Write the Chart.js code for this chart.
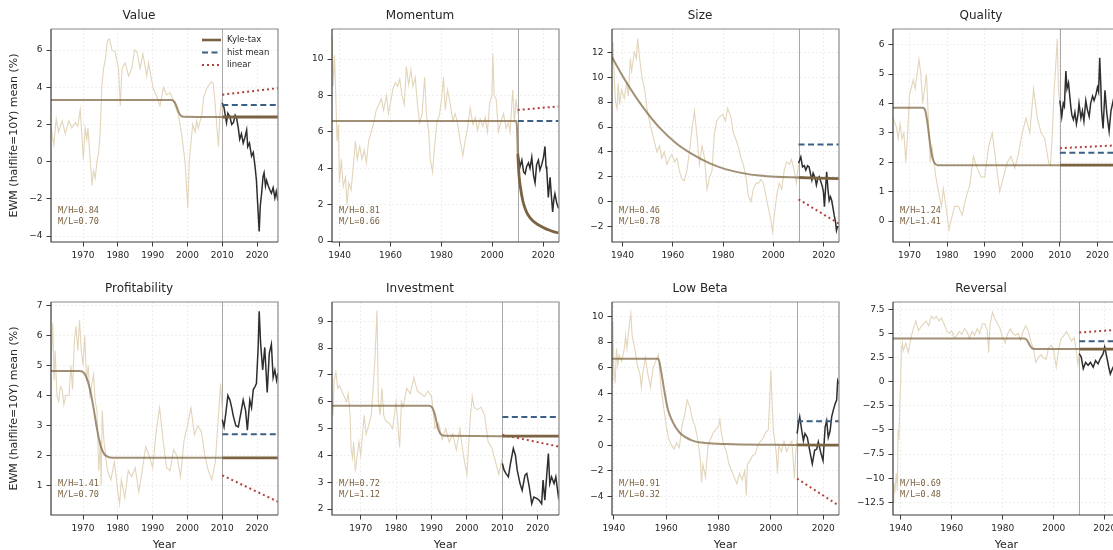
<!DOCTYPE html>
<html>
<head>
<meta charset="utf-8">
<script src="https://cdn.jsdelivr.net/npm/chart.js@4.4.1/dist/chart.umd.min.js"></script>
<style>
html, body { margin:0; padding:0; background:#fff; overflow:hidden; }
#fig { position:relative; width:1113px; height:550px; overflow:hidden; background:#fff; }
#fig canvas { position:absolute; }
</style>
</head>
<body>
<div id="fig"></div>
<script>
// tick labels
const decades = [1970, 1980, 1990, 2000, 2010, 2020];
const vicennia = [1940, 1960, 1980, 2000, 2020];
const valueYTicks = [-4, -2, 0, 2, 4, 6];
const momentumYTicks = [0, 2, 4, 6, 8, 10];
const sizeYTicks = [-2, 0, 2, 4, 6, 8, 10, 12];
const qualityYTicks = [0, 1, 2, 3, 4, 5, 6];
const profitYTicks = [1, 2, 3, 4, 5, 6, 7];
const investYTicks = [2, 3, 4, 5, 6, 7, 8, 9];
const lowBetaYTicks = [-4, -2, 0, 2, 4, 6, 8, 10];
const reversalYTicks = [-12.5, -10, -7.5, -5, -2.5, 0, 2.5, 5, 7.5];

// Value
const valueHist = [[1960.8,1.8],[1961.6,0.9],[1962.3,2.3],[1963,1.6],[1964,2.2],[1964.9,1.5],[1965.9,2.2],[1966.8,1.8],[1967.8,2.1],[1968.5,1.9],[1969.2,2.8],[1969.7,1.3],[1970.1,0.1],[1970.6,1.8],[1971.1,1.2],[1971.4,1.8],[1971.9,0.5],[1972.6,-1.3],[1973,-0.5],[1973.5,-0.9],[1974,0.0],[1974.5,0.5],[1974.9,1.5],[1975.4,4.0],[1975.9,5.0],[1976.4,5.5],[1977,6.5],[1977.6,6.6],[1978.3,6.0],[1979.2,5.9],[1980.2,5.0],[1980.7,3.0],[1981.2,5.0],[1982.1,5.3],[1983.1,4.6],[1984,5.0],[1984.8,6.0],[1985.5,5.9],[1986.4,5.0],[1987.2,5.8],[1988.3,4.6],[1988.8,5.3],[1990.2,3.9],[1991.2,3.5],[1992.1,3.0],[1993.1,4.0],[1994,3.6],[1995,3.7],[1995.9,3.3],[1997.4,2.5],[1998.3,1.5],[1999.3,0.0],[2000.1,-2.5],[2000.5,0.0],[2001.5,2.0],[2002.2,1.6],[2002.6,2.2],[2003.1,1.8],[2004.1,2.5],[2004.7,3.5],[2005.7,4.0],[2006.9,4.3],[2007.4,4.2],[2007.9,3.2],[2008.4,2.0],[2008.9,0.8],[2009.3,2.5],[2009.7,3.2],[2010,2.8]];
const valueOos = [[2010,3.15],[2010.5,2.9],[2011.2,2.1],[2011.6,2.6],[2012.2,2.4],[2012.7,2.0],[2013.2,2.1],[2013.7,2.5],[2014.1,2.35],[2014.6,1.8],[2015,1.2],[2015.5,1.5],[2016,1.0],[2016.5,1.3],[2017,1.7],[2017.3,0.8],[2017.8,1.0],[2018.4,0.3],[2018.9,0.5],[2019.4,-0.25],[2019.8,-1.0],[2020.3,-2.75],[2020.6,-3.75],[2020.9,-2.4],[2021.3,-1.7],[2021.7,-0.8],[2022,-0.6],[2022.4,-1.3],[2022.7,-1.0],[2023.2,-1.3],[2023.6,-1.5],[2024.1,-1.7],[2024.6,-1.4],[2025.1,-1.95],[2025.5,-1.6],[2026,-2.1]];
const valueKyleIn = [[1960.8,3.32],[1995.5,3.32],[1996.3,3.2],[1996.9,2.95],[1997.5,2.65],[1998.1,2.47],[1999,2.41],[2010,2.4]];
const valueKyleOut = [[2010,2.4],[2026,2.4]];
const valueMean = [[2010,3.05],[2026,3.05]];
const valueLinear = [[2010,3.6],[2026,3.95]];

// Momentum
const momentumHist = [[1937.1,11.2],[1937.5,8.5],[1938,10.2],[1938.4,8.4],[1939,5.5],[1939.5,6.4],[1939.9,3.2],[1940.7,4.5],[1941.4,3.0],[1942.3,3.5],[1942.9,2.0],[1943.6,3.2],[1944.5,2.8],[1945.3,4.0],[1946.2,5.5],[1946.9,4.5],[1947.9,5.2],[1948.8,4.5],[1949.7,5.0],[1950.5,4.3],[1951.4,5.5],[1952.4,6.0],[1953.4,6.5],[1954.4,7.2],[1955.4,7.5],[1956.4,7.8],[1957.3,7.2],[1958.4,8.0],[1959.2,7.0],[1960,7.6],[1961,8.4],[1961.9,8.7],[1962.8,8.5],[1963.6,8.9],[1964.5,8.0],[1965.4,7.5],[1966.2,9.6],[1967.1,8.6],[1968,9.4],[1968.8,8.5],[1969.7,9.0],[1970.6,7.5],[1971.4,6.5],[1972.4,7.0],[1973.4,9.0],[1974.1,7.0],[1975,6.0],[1975.6,4.5],[1976.5,3.8],[1977.2,5.0],[1978.2,6.5],[1979.3,7.0],[1980.2,8.0],[1980.8,9.0],[1981.5,7.2],[1982.4,8.3],[1983.5,7.5],[1984.5,6.6],[1985.4,7.0],[1986.3,6.5],[1987.4,5.5],[1988.4,4.7],[1989.3,5.5],[1990.3,6.2],[1991.3,7.3],[1992.4,6.4],[1993.3,6.8],[1994.2,6.1],[1995.2,6.7],[1996.3,6.3],[1997.2,6.8],[1998.1,6.0],[1998.9,7.5],[1999.8,8.0],[2000.2,10.3],[2000.7,8.0],[2001.5,7.8],[2002.4,6.0],[2003.3,6.5],[2004.4,7.0],[2005.4,6.2],[2006.3,6.5],[2007,6.0],[2008,8.3],[2008.7,6.5],[2009.3,7.8],[2010,7.0]];
const momentumOos = [[2010,4.6],[2010.3,4.6],[2010.9,4.1],[2011.6,4.45],[2012.3,3.8],[2012.9,3.7],[2013.5,4.1],[2014.2,4.3],[2014.8,4.0],[2015.5,4.6],[2016.2,3.6],[2016.8,3.2],[2017.4,4.2],[2018.1,4.45],[2018.7,3.9],[2019.4,4.2],[2020.1,4.6],[2020.7,5.2],[2021.1,4.1],[2021.4,3.9],[2022,2.4],[2022.7,3.5],[2023.2,2.5],[2023.7,1.6],[2024.2,2.3],[2024.6,2.6],[2025.3,2.1],[2026,1.8]];
const momentumKyleIn = [[1937,6.6],[2009.4,6.6],[2009.7,6.2],[2010,4.8]];
const momentumKyleOut = [[2010,4.8],[2010.5,3.6],[2011,3.0],[2012,2.2],[2013,1.75],[2014,1.45],[2016,1.1],[2018,0.9],[2020,0.75],[2022,0.62],[2024,0.52],[2026,0.45]];
const momentumMean = [[2010,6.6],[2026,6.6]];
const momentumLinear = [[2010,7.2],[2026,7.4]];

// Size
const sizeHist = [[1935.8,11.0],[1936.2,12.8],[1936.7,10.0],[1937.2,8.0],[1937.8,7.5],[1938.3,9.5],[1938.8,7.8],[1939.6,9.0],[1940.7,8.3],[1941.6,9.5],[1942.3,8.5],[1943.1,11.5],[1943.6,10.5],[1944.7,12.0],[1945.5,11.5],[1946,13.1],[1946.8,11.5],[1947.7,10.0],[1948.8,9.0],[1949.7,7.5],[1950.7,6.5],[1951.8,5.5],[1952.7,4.8],[1953.7,4.0],[1954.7,4.5],[1955.6,3.5],[1956.6,4.0],[1957.6,3.0],[1958.7,3.5],[1959.6,3.8],[1960.7,3.2],[1961.6,3.5],[1962.6,2.5],[1963.6,1.8],[1964.6,1.7],[1965.6,2.5],[1966.6,4.0],[1967.7,6.0],[1968.6,7.3],[1969.5,5.5],[1970.6,3.0],[1971.6,4.5],[1972.6,3.5],[1973.6,1.0],[1974.6,2.0],[1975.6,2.5],[1976.5,5.5],[1977.5,6.5],[1978.5,6.8],[1979.8,7.0],[1980.9,6.5],[1981.8,7.5],[1983.1,6.8],[1984.1,5.5],[1985.1,5.0],[1986.2,4.3],[1987.1,3.5],[1988,3.0],[1989.1,2.0],[1990,0.5],[1991.1,0.0],[1992,1.0],[1993.1,1.5],[1994.1,1.5],[1995.1,1.8],[1996,1.5],[1997,0.5],[1998,-0.5],[1999,-1.5],[1999.7,-2.4],[2000.3,-1.2],[2001.3,0.5],[2002.3,1.5],[2003.3,1.0],[2004.3,2.5],[2005.2,3.2],[2006.3,3.0],[2007.2,3.4],[2008.3,2.5],[2009.2,1.5],[2010,3.0]];
const sizeOos = [[2010,3.1],[2010.9,3.6],[2011.6,2.8],[2012.3,2.9],[2012.9,2.55],[2013.6,2.9],[2014.2,2.8],[2014.8,2.2],[2015.3,1.75],[2015.8,2.3],[2016.2,2.1],[2016.7,1.8],[2017.1,1.35],[2017.6,1.8],[2018.2,2.0],[2018.9,1.6],[2019.5,1.2],[2019.9,0.8],[2020.3,-0.4],[2020.7,0.9],[2021.2,2.4],[2021.7,1.0],[2022.2,0.1],[2022.7,0.4],[2023.2,0.1],[2023.7,-0.5],[2024.2,-1.1],[2024.7,-1.6],[2025.1,-2.3],[2025.5,-2.0],[2026,-2.0]];
const sizeKyleIn = [[1935.8,11.6],[1941.5,9.6],[1948.1,7.6],[1954.7,5.95],[1961.3,4.7],[1967.9,3.8],[1974.5,3.1],[1981.2,2.6],[1987.8,2.3],[1994.4,2.1],[2001,2.0],[2010,1.95]];
const sizeKyleOut = [[2010,1.95],[2018,1.9],[2026,1.85]];
const sizeMean = [[2010,4.6],[2026,4.6]];
const sizeLinear = [[2010,0.2],[2026,-1.75]];

// Quality
const qualityHist = [[1965.6,3.5],[1966.5,3.2],[1967,2.8],[1967.5,3.3],[1968,2.8],[1968.5,3.0],[1969,2.0],[1969.5,3.0],[1970,4.3],[1971,4.8],[1971.5,4.5],[1972,5.0],[1972.5,5.5],[1973,5.0],[1973.5,4.0],[1974,4.5],[1974.5,5.0],[1975,3.5],[1975.5,2.0],[1976,2.5],[1977,1.5],[1978,0.8],[1978.5,0.5],[1979,1.1],[1980,0.2],[1980.5,-0.3],[1981,0.0],[1982,0.5],[1983,0.5],[1984,0.2],[1985,0.8],[1986,1.2],[1987,2.2],[1988,1.8],[1989,1.5],[1990,1.5],[1991,2.5],[1992,3.0],[1993,2.0],[1994,1.0],[1995,1.5],[1996,2.0],[1997,2.2],[1998,1.8],[1999,2.3],[2000,3.0],[2001,3.5],[2002,3.0],[2003,4.5],[2004,3.5],[2005,3.0],[2006,2.8],[2007,2.0],[2007.5,1.9],[2008,3.0],[2008.5,4.5],[2009,5.5],[2009.3,6.2],[2009.6,4.5],[2010,4.0]];
const qualityOos = [[2010,4.1],[2010.5,3.55],[2010.9,4.0],[2011.2,3.9],[2011.6,5.1],[2011.9,4.5],[2012.3,4.7],[2012.9,3.9],[2013.2,3.6],[2013.6,3.45],[2014,3.7],[2014.4,3.3],[2014.8,3.6],[2015.1,4.0],[2015.6,3.5],[2016,3.75],[2016.4,3.4],[2016.9,4.1],[2017.3,3.8],[2017.8,3.55],[2018.2,4.0],[2018.7,4.25],[2019.1,4.1],[2019.6,4.3],[2020,4.55],[2020.3,4.4],[2020.6,5.55],[2020.9,4.6],[2021.1,3.75],[2021.5,3.15],[2022,4.45],[2022.5,3.65],[2023.1,3.05],[2023.6,3.75],[2024.2,4.1],[2024.7,3.6],[2025.3,3.9],[2026,4.2]];
const qualityKyleIn = [[1965.6,3.85],[1973.5,3.85],[1974.2,3.75],[1974.8,3.3],[1975.4,2.7],[1976,2.2],[1976.6,1.98],[1977.5,1.9],[2010,1.9]];
const qualityKyleOut = [[2010,1.9],[2026,1.9]];
const qualityMean = [[2010,2.32],[2026,2.32]];
const qualityLinear = [[2010,2.48],[2026,2.58]];

// Profitability
const profitHist = [[1960.8,5.0],[1961.3,6.4],[1961.7,4.5],[1962,5.5],[1962.5,4.0],[1963,3.8],[1963.5,4.3],[1964,4.2],[1964.5,3.7],[1965,4.0],[1966,4.0],[1966.5,5.0],[1967,4.2],[1967.5,5.8],[1968,6.3],[1968.5,5.5],[1969,6.5],[1969.5,5.5],[1970,5.0],[1970.5,6.0],[1971,4.5],[1971.5,5.0],[1972,4.0],[1973,4.7],[1973.5,3.8],[1974,3.5],[1974.5,1.5],[1975,2.5],[1975.2,1.0],[1975.5,3.5],[1976,2.5],[1977,1.5],[1978,1.2],[1979,1.8],[1980,0.8],[1980.5,0.4],[1981,1.2],[1982,0.6],[1983,1.5],[1984,1.3],[1985,1.6],[1986,0.8],[1987,1.5],[1988,2.3],[1989,2.0],[1990,1.6],[1991,2.8],[1992,3.6],[1993,2.5],[1994,1.6],[1995,1.5],[1996,2.2],[1997,2.0],[1998,1.3],[1999,2.5],[2000,3.0],[2001,3.6],[2002,2.7],[2003,3.0],[2004,2.8],[2005,2.0],[2006,1.5],[2007,1.2],[2008,1.8],[2009,3.5],[2009.5,4.4],[2010,3.5]];
const profitOos = [[2010,3.2],[2010.5,2.96],[2011,3.4],[2011.6,4.0],[2012.2,3.85],[2012.7,3.6],[2013.2,3.3],[2013.9,3.0],[2014.6,2.96],[2015.3,3.4],[2016,3.85],[2016.7,3.5],[2017.2,2.85],[2017.9,3.85],[2018.4,3.6],[2018.9,4.2],[2019.4,4.3],[2019.8,4.4],[2020.3,5.6],[2020.6,6.8],[2021,5.75],[2021.6,4.85],[2022.2,5.6],[2022.9,4.1],[2023.5,5.4],[2024.1,5.7],[2024.6,4.6],[2025.1,4.85],[2025.6,4.5],[2026,4.75]];
const profitKyleIn = [[1960.8,4.82],[1969,4.82],[1970,4.78],[1971,4.6],[1972,4.2],[1973,3.6],[1974,2.9],[1975,2.35],[1976,2.07],[1977,1.97],[1978.5,1.93],[2010,1.93]];
const profitKyleOut = [[2010,1.93],[2026,1.93]];
const profitMean = [[2010,2.71],[2026,2.71]];
const profitLinear = [[2010,1.35],[2026,0.47]];

// Investment
const investHist = [[1961.9,6.0],[1962.2,5.5],[1962.5,6.8],[1963,7.1],[1963.5,6.5],[1964,6.6],[1965,6.3],[1966,6.0],[1966.5,6.3],[1967,5.5],[1967.3,4.2],[1967.7,3.9],[1968,4.5],[1968.5,3.4],[1969,4.0],[1969.5,4.5],[1970,4.0],[1971,5.5],[1971.5,4.8],[1972,5.0],[1973,5.5],[1973.5,6.5],[1974,7.5],[1974.6,9.4],[1975,6.0],[1975.5,5.5],[1976,6.5],[1976.5,5.5],[1977,5.3],[1978,5.2],[1979,5.0],[1980,6.0],[1981,4.3],[1981.5,6.0],[1982,5.8],[1983,6.5],[1984,6.3],[1985,6.9],[1986,6.4],[1987,6.3],[1988,6.2],[1989,6.4],[1990,6.2],[1991,5.0],[1992,5.2],[1993,4.6],[1994,5.0],[1995,4.5],[1996,4.8],[1997,4.2],[1998,5.0],[1999,4.0],[2000,3.3],[2001,5.5],[2001.5,6.2],[2002,5.8],[2003,5.7],[2004,5.8],[2005,5.5],[2006,4.5],[2007,4.3],[2008,3.8],[2009,3.3],[2010,3.9]];
const investOos = [[2010,3.7],[2010.5,3.45],[2011,3.33],[2011.7,3.2],[2012.3,3.7],[2013.1,4.26],[2013.7,4.0],[2014.2,3.45],[2015,2.95],[2015.6,2.7],[2016.4,3.27],[2016.9,3.33],[2017.6,2.83],[2018.3,2.2],[2018.9,2.45],[2019.7,2.4],[2020.4,2.33],[2021.1,2.2],[2021.5,3.08],[2022,2.33],[2022.5,3.2],[2023,4.07],[2023.4,2.95],[2023.9,3.2],[2024.6,2.95],[2025.1,3.2],[2025.8,2.5],[2026,2.7]];
const investKyleIn = [[1961.9,5.85],[1989.3,5.85],[1990.2,5.78],[1990.9,5.55],[1991.5,5.2],[1992.1,4.92],[1992.8,4.77],[1994,4.73],[2010,4.72]];
const investKyleOut = [[2010,4.72],[2026,4.72]];
const investMean = [[2010,5.43],[2026,5.43]];
const investLinear = [[2010,4.77],[2026,4.33]];

// Low Beta
const lowBetaHist = [[1939.3,5.0],[1939.6,9.6],[1940,6.0],[1940.5,4.8],[1941,7.5],[1941.5,6.2],[1942,7.0],[1943,6.5],[1944,7.5],[1944.5,8.5],[1945,7.5],[1946,9.5],[1946.5,10.2],[1947,8.5],[1948,7.5],[1949,6.2],[1950,5.5],[1950.5,4.5],[1951,5.5],[1952,6.8],[1953,5.5],[1954,4.5],[1955,6.0],[1956,6.5],[1957,7.0],[1958,4.5],[1959,3.0],[1960,1.5],[1961,0.5],[1962,0.0],[1963,-0.3],[1964,0.2],[1965,-0.2],[1966,1.5],[1967,2.3],[1968,3.5],[1969,3.0],[1970,2.0],[1971,1.5],[1972,0.5],[1973,-1.0],[1973.5,-2.9],[1974,-1.5],[1975,-2.5],[1976,0.0],[1977,0.5],[1978,1.0],[1979,1.2],[1980,1.5],[1980.5,2.0],[1981,1.0],[1982,0.0],[1983,-0.5],[1984,-1.5],[1985,-2.0],[1986,-2.5],[1987,-3.0],[1988,-2.2],[1989,-2.7],[1990,-2.0],[1990.6,-3.9],[1991,-1.5],[1992,-1.2],[1993,-0.8],[1994,-0.7],[1995,0.0],[1996,0.3],[1997,0.5],[1998,1.0],[1999,1.2],[2000,5.8],[2000.5,3.0],[2001,1.0],[2002,-0.5],[2002.5,-2.2],[2003,0.0],[2004,-0.5],[2005,0.3],[2006,-0.5],[2007,0.0],[2008,0.3],[2009,-2.6],[2009.5,-0.5],[2010,0.5]];
const lowBetaOos = [[2010,0.9],[2010.5,1.65],[2011,2.2],[2011.8,1.1],[2012.4,0.35],[2013,0.9],[2013.9,0.6],[2014.8,-0.4],[2015.8,-1.45],[2016.7,-0.4],[2017.5,-0.3],[2018.1,0.25],[2019,-0.55],[2019.9,-1.2],[2020.7,1.4],[2021.3,1.9],[2021.9,0.6],[2022.6,1.1],[2023.2,2.2],[2023.8,2.7],[2024.5,3.2],[2025.1,3.5],[2025.5,5.0],[2026,4.75]];
const lowBetaKyleIn = [[1939.3,6.7],[1957,6.7],[1958,5.8],[1959.3,4.2],[1960.6,2.8],[1962.5,1.8],[1965,1.0],[1970,0.35],[1976.5,0.15],[1985.4,0.08],[2010,0.02]];
const lowBetaKyleOut = [[2010,0.02],[2026,0.0]];
const lowBetaMean = [[2010,1.86],[2026,1.86]];
const lowBetaLinear = [[2010,-2.6],[2026,-4.7]];

// Reversal
const reversalHist = [[1937,-12.5],[1937.3,-10.5],[1937.7,-11.5],[1938,-10.5],[1938.3,-9.5],[1938.7,-11.3],[1939,-5.0],[1939.3,-6.0],[1939.7,-2.0],[1940,0.0],[1940.3,3.5],[1940.7,4.0],[1941,3.2],[1942,4.0],[1943,3.0],[1944,4.5],[1945,5.5],[1946,6.3],[1947,5.3],[1948,5.7],[1949,6.0],[1950,6.3],[1951,5.8],[1952,6.8],[1953,6.5],[1954,6.8],[1955,6.3],[1956,6.6],[1957,6.0],[1958,5.3],[1959,5.0],[1960,5.3],[1961,4.5],[1962,4.8],[1963,5.2],[1964,4.9],[1965,5.5],[1966,5.2],[1967,4.5],[1968,5.2],[1969,4.8],[1970,5.5],[1971,5.0],[1972,6.0],[1973,6.0],[1974,5.3],[1974.5,3.0],[1975,5.8],[1976,7.2],[1977,6.5],[1978,6.0],[1979,5.5],[1980,4.5],[1981,4.0],[1982,5.0],[1983,5.5],[1984,5.0],[1985,4.8],[1986,5.0],[1987,4.3],[1988,5.2],[1989,5.8],[1990,5.3],[1991,4.2],[1992,3.5],[1993,2.0],[1994,2.5],[1995,2.8],[1996,2.5],[1997,2.3],[1998,3.5],[1999,3.8],[2000,3.2],[2001,1.5],[2002,3.5],[2003,4.5],[2004,4.8],[2005,5.2],[2006,4.7],[2007,4.2],[2008,4.6],[2009,3.0],[2009.5,1.8],[2010,2.8]];
const reversalOos = [[2010,2.9],[2010.8,2.55],[2011.6,1.35],[2012.5,2.0],[2013.5,1.7],[2014.4,2.0],[2015.5,1.5],[2016.4,2.2],[2017.4,1.85],[2018.3,2.4],[2019.4,2.9],[2020,3.6],[2020.7,2.7],[2021.6,1.5],[2022.2,0.8],[2022.8,1.2],[2023.5,1.6],[2024.3,1.2],[2025.1,1.5],[2026,1.3]];
const reversalKyleIn = [[1937,4.48],[1988.4,4.48],[1989.2,4.4],[1990,4.1],[1990.8,3.7],[1991.6,3.46],[1992.5,3.39],[1994,3.38],[2010,3.38]];
const reversalKyleOut = [[2010,3.38],[2026,3.38]];
const reversalMean = [[2010,4.2],[2026,4.2]];
const reversalLinear = [[2010,5.1],[2026,5.4]];

// M/H and M/L ratios
const valueRatios = [0.84, 0.70];
const momentumRatios = [0.81, 0.66];
const sizeRatios = [0.46, 0.78];
const qualityRatios = [1.24, 1.41];
const profitRatios = [1.41, 0.70];
const investRatios = [0.72, 1.12];
const lowBetaRatios = [0.91, 0.32];
const reversalRatios = [0.69, 0.48];

const panels = [
  {title:'Value', hist:valueHist, oos:valueOos, kIn:valueKyleIn, kOut:valueKyleOut, mean:valueMean, lin:valueLinear, ratios:valueRatios, xt:decades, yt:valueYTicks, xr:[1960.8,2026], yr:[-4.32,7.13]},
  {title:'Momentum', hist:momentumHist, oos:momentumOos, kIn:momentumKyleIn, kOut:momentumKyleOut, mean:momentumMean, lin:momentumLinear, ratios:momentumRatios, xt:vicennia, yt:momentumYTicks, xr:[1937,2026.2], yr:[-0.05,11.65]},
  {title:'Size', hist:sizeHist, oos:sizeOos, kIn:sizeKyleIn, kOut:sizeKyleOut, mean:sizeMean, lin:sizeLinear, ratios:sizeRatios, xt:vicennia, yt:sizeYTicks, xr:[1935.8,2026.1], yr:[-3.23,13.87]},
  {title:'Quality', hist:qualityHist, oos:qualityOos, kIn:qualityKyleIn, kOut:qualityKyleOut, mean:qualityMean, lin:qualityLinear, ratios:qualityRatios, xt:decades, yt:qualityYTicks, xr:[1965.6,2026], yr:[-0.71,6.53]},
  {title:'Profitability', hist:profitHist, oos:profitOos, kIn:profitKyleIn, kOut:profitKyleOut, mean:profitMean, lin:profitLinear, ratios:profitRatios, xt:decades, yt:profitYTicks, xr:[1960.8,2026], yr:[0.03,7.11]},
  {title:'Investment', hist:investHist, oos:investOos, kIn:investKyleIn, kOut:investKyleOut, mean:investMean, lin:investLinear, ratios:investRatios, xt:decades, yt:investYTicks, xr:[1961.9,2026], yr:[1.78,9.72]},
  {title:'Low Beta', hist:lowBetaHist, oos:lowBetaOos, kIn:lowBetaKyleIn, kOut:lowBetaKyleOut, mean:lowBetaMean, lin:lowBetaLinear, ratios:lowBetaRatios, xt:vicennia, yt:lowBetaYTicks, xr:[1939.3,2026], yr:[-5.42,11.11]},
  {title:'Reversal', hist:reversalHist, oos:reversalOos, kIn:reversalKyleIn, kOut:reversalKyleOut, mean:reversalMean, lin:reversalLinear, ratios:reversalRatios, xt:vicennia, yt:reversalYTicks, xr:[1937,2026], yr:[-13.81,8.26]}
];

const C = {
  hist: '#e2d5ba', kIn: 'rgba(125,101,64,0.72)', kOut: '#7b6240', oos: '#2e2e2e',
  mean: '#3c5f84', lin: '#b2413f', split: '#a8a8a8', note: '#7b6240', text: '#262626'
};

Chart.defaults.font.family = '"DejaVu Sans", sans-serif';
Chart.defaults.color = C.text;

const pts = a => a.map(([x, y]) => ({x, y}));
const fmtY = v => (v < 0 ? '\u2212' : '') + (Number.isInteger(v) ? String(Math.abs(v)) : Math.abs(v).toFixed(1));

// vertical split line, frame, note and legend
const deco = {
  id: 'deco',
  beforeDatasetsDraw(chart, args, o) {
    const {ctx, chartArea: a, scales: {x}} = chart;
    const px = Math.round(x.getPixelForValue(2010)) + 0.5;
    ctx.save();
    ctx.strokeStyle = C.split; ctx.lineWidth = 1;
    ctx.beginPath(); ctx.moveTo(px, a.top); ctx.lineTo(px, a.bottom); ctx.stroke();
    ctx.restore();
  },
  afterDraw(chart, args, o) {
    const {ctx, chartArea: a} = chart;
    ctx.save();
    ctx.lineWidth = 1.2;
    ctx.strokeStyle = '#8a8a8a';
    ctx.beginPath(); ctx.moveTo(a.left, a.top); ctx.lineTo(a.right, a.top); ctx.lineTo(a.right, a.bottom); ctx.stroke();
    ctx.strokeStyle = '#3a3a3a';
    ctx.beginPath(); ctx.moveTo(a.left, a.top); ctx.lineTo(a.left, a.bottom); ctx.lineTo(a.right, a.bottom); ctx.stroke();

    ctx.font = '8.5px "DejaVu Sans Mono", monospace';
    ctx.fillStyle = C.note; ctx.textBaseline = 'middle'; ctx.textAlign = 'left';
    ctx.fillText('M/H=' + o.ratios[0].toFixed(2), a.left + 7, a.bottom - 31);
    ctx.fillText('M/L=' + o.ratios[1].toFixed(2), a.left + 7, a.bottom - 20);

    if (o.legend) {
      const items = [
        {label: 'Kyle-tax', color: C.kOut, w: 2.6, dash: []},
        {label: 'hist mean', color: C.mean, w: 2, dash: [6, 3.5]},
        {label: 'linear', color: C.lin, w: 2, dash: [2, 3]}
      ];
      ctx.font = '8.5px "DejaVu Sans", sans-serif';
      items.forEach((it, i) => {
        const y = a.top + 11 + i * 12.5;
        ctx.strokeStyle = it.color; ctx.lineWidth = it.w; ctx.setLineDash(it.dash);
        ctx.beginPath(); ctx.moveTo(a.right - 76, y); ctx.lineTo(a.right - 57, y); ctx.stroke();
        ctx.setLineDash([]);
        ctx.fillStyle = C.text;
        ctx.fillText(it.label, a.right - 51, y);
      });
    }
    ctx.restore();
  }
};

const fig = document.getElementById('fig');
const colLeft = [51, 332, 612, 893];
const rowTop = [29, 302];
const plotW = 227, plotH = 213, yAxisW = 51, titleH = 21, padR = 5;

panels.forEach((p, i) => {
  const col = i % 4, row = Math.floor(i / 4);
  const xH = row === 1 ? 37 : 22;
  const cv = document.createElement('canvas');
  cv.width = yAxisW + plotW + padR;
  cv.height = titleH + plotH + xH;
  cv.style.left = (colLeft[col] - yAxisW) + 'px';
  cv.style.top = (rowTop[row] - titleH) + 'px';
  fig.appendChild(cv);

  const grid = {color: '#ebebeb', lineWidth: 0.8, tickColor: '#3a3a3a', tickLength: 4.5, tickWidth: 1};
  const border = {display: false, dash: [2, 2]};

  new Chart(cv, {
    type: 'line',
    data: {
      datasets: [
        {label: 'Kyle-tax', data: pts(p.kOut), borderColor: C.kOut, borderWidth: 2.8, order: 1, cubicInterpolationMode: 'monotone'},
        {label: 'linear', data: pts(p.lin), borderColor: C.lin, borderWidth: 2, borderDash: [2, 3], order: 2},
        {label: 'hist mean', data: pts(p.mean), borderColor: C.mean, borderWidth: 2, borderDash: [6, 3.5], order: 3},
        {label: 'realized', data: pts(p.oos), borderColor: C.oos, borderWidth: 1.5, order: 4},
        {label: 'Kyle-tax in-sample', data: pts(p.kIn), borderColor: C.kIn, borderWidth: 2, order: 5, cubicInterpolationMode: 'monotone'},
        {label: 'history', data: pts(p.hist), borderColor: C.hist, borderWidth: 1.1, order: 6}
      ]
    },
    options: {
      responsive: false,
      animation: false,
      devicePixelRatio: 1,
      events: [],
      layout: {padding: {left: 0, right: padR, top: 0, bottom: 0}},
      elements: {point: {radius: 0}, line: {tension: 0, fill: false}},
      plugins: {
        legend: {display: false},
        tooltip: {enabled: false},
        title: {display: true, text: p.title, color: C.text, font: {size: 12, weight: 'normal', lineHeight: 1.25}, padding: {top: 0, bottom: 6}},
        deco: {ratios: p.ratios, legend: i === 0}
      },
      scales: {
        x: {
          type: 'linear', min: p.xr[0], max: p.xr[1],
          grid, border,
          afterBuildTicks: s => { s.ticks = p.xt.map(v => ({value: v})); },
          afterFit: s => { s.height = xH; },
          ticks: {font: {size: 9}, color: C.text, padding: 3.5, maxRotation: 0, autoSkip: false, callback: v => String(v)},
          title: {display: row === 1, text: 'Year', color: C.text, font: {size: 11}, padding: {top: 0, bottom: 0}}
        },
        y: {
          type: 'linear', min: p.yr[0], max: p.yr[1],
          grid, border,
          afterBuildTicks: s => { s.ticks = p.yt.map(v => ({value: v})); },
          afterFit: s => { s.width = yAxisW; },
          ticks: {font: {size: 9}, color: C.text, padding: 4, autoSkip: false, callback: v => fmtY(v)},
          title: {display: col === 0, text: 'EWM (halflife=10Y) mean (%)', color: C.text, font: {size: 11}, padding: {top: 8, bottom: 0}}
        }
      }
    },
    plugins: [deco]
  });
});
</script>
</body>
</html>
